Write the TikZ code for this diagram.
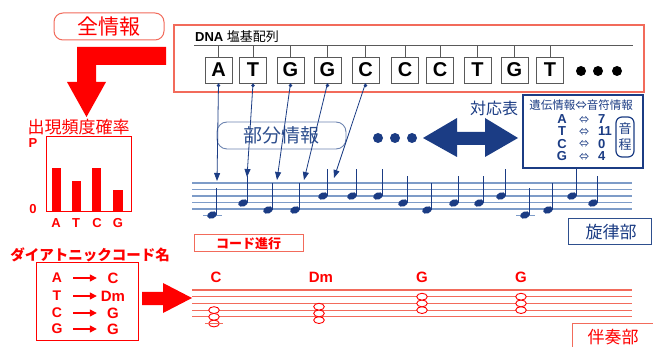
\documentclass[tikz,border=0pt]{standalone}
\usepackage{fontspec}
\setmainfont{Liberation Sans}
\newfontfamily\jp{Noto Sans CJK JP}
\usetikzlibrary{arrows.meta}
\definecolor{myred}{HTML}{FF0000}
\definecolor{salmon}{HTML}{F26B5B}
\definecolor{dblue}{HTML}{1B3C84}
\definecolor{lblue}{HTML}{7E9CC8}
\definecolor{mblue}{HTML}{2E4F8E}
\begin{document}
\begin{tikzpicture}[x=1pt,y=-1pt,
 jpf/.style={font=\jp\fontsize{#1}{#1}\selectfont},
 jpb/.style={font=\jp\bfseries\fontsize{#1}{#1}\selectfont},
 bf/.style={font=\bfseries\fontsize{#1}{#1}\selectfont},
 basebox/.style={draw=black!65, line width=0.9, minimum width=27, minimum height=26, inner sep=0, bf=20},
 bluearrow/.style={draw=dblue, line width=0.8, -{Triangle[length=8,width=6]}},
 redarrow/.style={draw=myred, line width=1.2, -{Triangle[length=7,width=7]}},
 staffb/.style={draw=lblue, line width=1.3},
 staffr/.style={draw=salmon, line width=1.1},
 onote/.style={draw=myred, line width=0.9, fill=white},
]
\useasboundingbox (0,0) rectangle (653,347);
\fill[white] (0,0) rectangle (653,347);

% ---- 全情報 and L arrow
\node[draw=salmon, line width=1, rounded corners=9, minimum width=110, minimum height=27, inner sep=0, text=myred, jpf=21] (zen) at (109,26.5) {全情報};
\fill[myred] (166,47) -- (77,47) -- (77,82) -- (67,82) -- (86.5,117) -- (106,82) -- (96,82) -- (96,65) -- (166,65) -- cycle;

% ---- DNA box
\node[draw=salmon, line width=1.1, minimum width=470, minimum height=67, inner sep=0] (dna) at (409,58.5) {};
\node[anchor=west, inner sep=0, bf=13] (dnat) at (195,37) {DNA {\jp\mdseries 塩基配列}};
\coordinate (dl) at (194,46); \coordinate (dr) at (633,46);
\draw[black!65, line width=1] (dl) -- (dr);
\foreach \x/\c [count=\i] in {218.5/A,253/T,290.5/G,327.5/G,365.5/C,405/C,440/C,477.5/T,514.5/G,550/T} {
  \node[basebox] (b\i) at (\x,70) {\c};
  \draw[black!65, line width=0.9] (b\i.north) -- (b\i.north |- dl);
}
\foreach \x in {581,598,617} \fill (\x,71) circle (5);

% ---- melody staff
\foreach \y in {183,189.5,196,202.5,209} \draw[staffb] (192,\y) -- (632,\y);
\draw[staffb] (203,215.5) -- (222,215.5);
\draw[staffb] (516,215.5) -- (535,215.5);
\foreach \x/\y [count=\i] in {212/215,243/203,268/210,295/210,323/196,352/196,378/196,403/203,427/210,454/203,479/203,501/196,525/215,548/210,572/196,593/203} {
  \fill[dblue, rotate around={20:(\x,\y)}] (\x,\y) ellipse [x radius=5, y radius=3.5];
  \draw[dblue, line width=1.1] (\x+4.4,\y) -- (\x+4.4,\y-27) coordinate (s\i);
}

% ---- 部分情報
\node[draw=mblue!70, line width=0.9, rounded corners=10, minimum width=129, minimum height=27, inner sep=0, text=mblue, jpf=19] (bubun) at (281.5,135.5) {部分情報};

% ---- blue arrows
\coordinate (a1) at (217,181);
\coordinate (a2) at (247,177);
\coordinate (a3) at (277,180);
\coordinate (a4) at (304,180);
\coordinate (a5) at (334,178);
\foreach \i in {1,...,5} {
  \fill[dblue] (b\i.south) ++(0,2) circle (1.9);
  \draw[bluearrow] (b\i.south) -- (a\i);
}

% ---- dots and double arrow
\foreach \x in {378,395,412} \fill[dblue] (\x,138) circle (5);
\fill[dblue] (423,138) -- (457,118) -- (457,132) -- (485,132) -- (485,118) -- (518,138) -- (485,157) -- (485,145) -- (457,145) -- (457,157) -- cycle;
\node[text=dblue, jpf=16, inner sep=0] (taio) at (494,108) {対応表};

% ---- correspondence table
\node[draw=dblue, line width=1.8, minimum width=120, minimum height=73, inner sep=0] (tbl) at (583,131.5) {};
\node[text=dblue, jpf=11.5, inner sep=0] (tblt) at (581,105) {遺伝情報⇔音符情報};
\foreach \y/\l/\n [count=\i] in {119.5/A/7,131.5/T/11,144/C/0,156.5/G/4} {
  \node[text=dblue, bf=13, inner sep=0] (tl\i) at (562,\y) {\l};
  \node[text=dblue, jpf=10, inner sep=0] (ta\i) at (584,\y) {⇔};
  \node[text=dblue, bf=13, inner sep=0, anchor=west] (tn\i) at (598,\y) {\n};
}
\node[draw=dblue, line width=1.2, rounded corners=6, minimum width=18, minimum height=40, inner sep=0, text=dblue, font=\jp\fontsize{13}{16}\selectfont, align=center] (onte) at (625,137) {音\\程};
\draw[dblue, line width=1.1] (tbl.south -| s15) -- (s15);

\node[draw=mblue, line width=1, minimum width=83, minimum height=26, inner sep=0] (senbox) at (609.5,232) {};
\node[text=dblue, jpf=17, inner sep=0] (senritsu) at (611,232) {旋律部};

% ---- bar chart
\node[text=myred, jpf=17, inner sep=0] (shutsu) at (78.5,127) {出現頻度確率};
\node[draw=myred, line width=1, minimum width=85, minimum height=75, inner sep=0] (chart) at (88.5,174.5) {};
\node[text=myred, bf=13, inner sep=0] (pl) at (33,143) {P};
\node[text=myred, bf=13, inner sep=0] (zl) at (33,209) {0};
\fill[myred] (52,168) rectangle (61,212);
\fill[myred] (72,181) rectangle (81,212);
\fill[myred] (92,168) rectangle (101,212);
\fill[myred] (113,190) rectangle (123,212);
\foreach \x/\l [count=\i] in {56/A,76/T,97/C,118/G}
  \node[text=myred, bf=13, inner sep=0] (bl\i) at (\x,223) {\l};

% ---- chord part
\node[draw=salmon, line width=1, minimum width=109, minimum height=17, inner sep=0, text=myred, jpb=13] (code) at (248.5,243.5) {コード進行};
\node[text=myred, jpb=14.5, inner sep=0] (dia) at (90,255) {ダイアトニックコード名};
\node[draw=myred, line width=1, minimum width=102, minimum height=77, inner sep=0] (ctbl) at (87,301.5) {};
\foreach \y/\l/\r [count=\i] in {278/A/C,296/T/Dm,313/C/G,329/G/G} {
  \node[text=myred, bf=14, inner sep=0, minimum width=12] (cl\i) at (57,\y) {\l};
  \node[text=myred, bf=15, inner sep=0, minimum width=30] (cr\i) at (113,\y) {\r};
  \draw[redarrow, shorten <=10, shorten >=1] (cl\i.east) -- (cr\i.west);
}
\fill[myred] (142,292) -- (163,292) -- (163,283) -- (192,298) -- (163,313) -- (163,305) -- (142,305) -- cycle;

% ---- accompaniment staff
\foreach \y in {290,296.7,303.4,310.1,316.8} \draw[staffr] (192,\y) -- (632,\y);
\foreach \x/\a/\b/\c in {214/310.1/316.8/323.5, 319/306.7/313.4/320.1, 422/296.7/303.4/310.1, 521/296.7/303.4/310.1} {
  \draw[onote] (\x,\c) ellipse [x radius=5.3, y radius=3.4];
  \draw[onote] (\x,\b) ellipse [x radius=5.3, y radius=3.4];
  \draw[onote] (\x,\a) ellipse [x radius=5.3, y radius=3.4];
}
\draw[staffr] (205,323.5) -- (223,323.5);
\foreach \x/\l [count=\i] in {216/C,321/Dm,422/G,521/G}
  \node[text=myred, bf=15, inner sep=0] (ch\i) at (\x,277) {\l};

\node[draw=salmon, line width=1, minimum width=90, minimum height=32, inner sep=0] (banbox) at (617,339) {};
\node[text=myred, jpf=17, inner sep=0] (banso) at (613,337) {伴奏部};
\end{tikzpicture}
\end{document}
